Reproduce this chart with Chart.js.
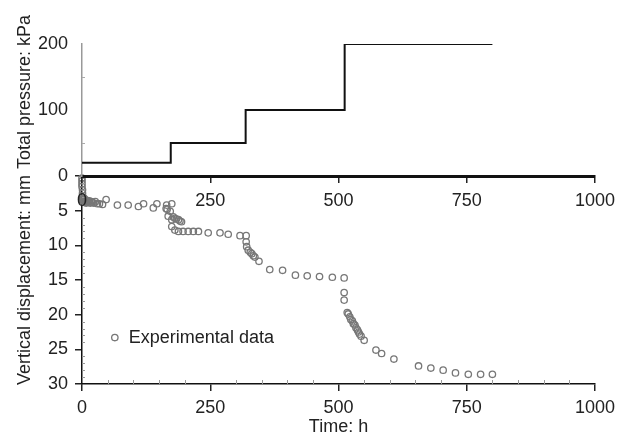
<!DOCTYPE html>
<html>
<head>
<meta charset="utf-8">
<script src="https://cdn.jsdelivr.net/npm/chart.js@4"></script>
<style>
	body { margin: 0; background: #fff; }
	#wrap { position: relative; width: 628px; height: 436px; }
	canvas { position: absolute; left: 0; top: 0; }
</style>
</head>
<body>
<div id="wrap">
	<canvas id="dispChart" width="628" height="436"></canvas>
	<canvas id="pressChart" width="628" height="436"></canvas>
</div>
<script>
// load steps (total pressure, kPa)
const stepTime = [0, 173, 319, 512, 800];
const stepPressure = [20, 50, 100, 200, 200];

// measured settlement (vertical displacement, mm)
const timeH = [
	0, 0, 0, 0, 1, 1, 1, 0, 2, 3, 4, 5, 6, 7, 8, 9, 10, 12, 14, 16, 18, 20, 23, 26, 30, 34,
	40, 47, 69, 90, 110, 120, 139, 146, 164,
	165, 175, 166, 172, 168, 175, 178, 181, 184, 188, 191, 194, 175, 181, 188, 197, 207, 217, 227,
	246, 269, 285, 308, 320,
	320, 321, 324, 328, 331, 334, 337, 345, 366, 391, 416, 439, 463, 488, 511,
	511, 511, 517, 519, 522, 524, 527, 529, 532, 534, 537, 539, 541, 544, 550,
	573, 584, 608, 656, 680, 704, 728, 753, 777, 800
];
const dispMm = [
	0.3, 0.7, 1.1, 1.5, 2.0, 2.5, 3.0, 3.5, 3.3, 3.6, 3.2, 3.8, 3.4, 3.6, 3.9, 3.5, 3.7, 3.8, 3.6, 3.9, 3.7, 3.8, 3.9, 3.7, 4.0, 4.0,
	4.1, 3.4, 4.2, 4.2, 4.4, 4.0, 4.6, 4.0, 4.7,
	4.2, 4.0, 4.8, 5.1, 5.8, 6.3, 5.9, 6.1, 6.2, 6.3, 6.5, 6.6, 7.3, 7.8, 8.0, 8.0, 8.0, 8.0, 8.0,
	8.2, 8.2, 8.4, 8.6, 8.6,
	9.5, 10.2, 10.7, 11.0, 11.2, 11.5, 11.7, 12.3, 13.5, 13.6, 14.3, 14.4, 14.5, 14.6, 14.7,
	16.8, 17.9, 19.7, 19.9, 20.3, 20.7, 20.9, 21.3, 21.5, 21.9, 22.2, 22.5, 22.8, 23.1, 23.7,
	25.1, 25.6, 26.4, 27.4, 27.7, 28.0, 28.4, 28.6, 28.6, 28.6
];

const timeMin = 0, timeMax = 1000, timeStep = 250;
const pressMax = 200, pressStep = 100;
const dispMax = 30, dispStep = 5;
const legendText = 'Experimental data';
const legendAt = [64, 23.3];

const markColor = '#777';
const inkColor = '#222';

Chart.defaults.font.family = '"Liberation Sans", Arial, sans-serif';
Chart.defaults.font.size = 18;
Chart.defaults.color = inkColor;

// small inward ticks between the labelled ones
const minorTicks = {
	id: 'minorTicks',
	afterDraw(chart, args, opts) {
		const ctx = chart.ctx;
		const area = chart.chartArea;
		ctx.save();
		ctx.strokeStyle = opts.color;
		ctx.lineWidth = 1;
		ctx.beginPath();
		(opts.list || []).forEach(function(m) {
			const scale = chart.scales[m.axis];
			for (let v = scale.min + m.step; v < scale.max; v += m.step) {
				if (v % m.major === 0) continue;
				const p = Math.round(scale.getPixelForValue(v)) + 0.5;
				if (scale.isHorizontal()) {
					ctx.moveTo(p, area.bottom);
					ctx.lineTo(p, area.bottom - m.len);
				} else {
					ctx.moveTo(area.left, p);
					ctx.lineTo(area.left + m.len, p);
				}
			}
		});
		ctx.stroke();
		ctx.restore();
	}
};

// legend entry inside the plot, and the pressure axis title
const extraText = {
	id: 'extraText',
	afterDraw(chart, args, opts) {
		const ctx = chart.ctx;
		ctx.save();
		ctx.fillStyle = inkColor;
		ctx.font = '18px "Liberation Sans", Arial, sans-serif';
		if (opts.legend) {
			const x = chart.scales.x.getPixelForValue(opts.legend.at[0]);
			const y = chart.scales.y.getPixelForValue(opts.legend.at[1]);
			ctx.strokeStyle = markColor;
			ctx.lineWidth = 1.3;
			ctx.beginPath();
			ctx.arc(x, y, 3.2, 0, Math.PI * 2);
			ctx.stroke();
			ctx.textBaseline = 'middle';
			ctx.textAlign = 'left';
			ctx.fillText(opts.legend.text, x + 14, y);
		}
		if (opts.yTitle) {
			ctx.translate(opts.yTitle.x, opts.yTitle.y);
			ctx.rotate(-Math.PI / 2);
			ctx.textAlign = 'center';
			ctx.textBaseline = 'middle';
			ctx.fillText(opts.yTitle.text, 0, 0);
		}
		ctx.restore();
	}
};

const plainNumber = (v) => String(v);

new Chart(document.getElementById('dispChart'), {
	type: 'scatter',
	data: {
		datasets: [{
			label: legendText,
			data: timeH.map((t, i) => ({x: t, y: dispMm[i]})),
			pointRadius: 3.2,
			pointBorderWidth: 1.3,
			borderColor: markColor,
			backgroundColor: 'rgba(255,255,255,0)',
			clip: false,
		}],
	},
	options: {
		responsive: false,
		animation: false,
		devicePixelRatio: 1,
		layout: { padding: { top: 176, left: 0, right: 33, bottom: 0 } },
		plugins: {
			legend: { display: false },
			tooltip: { enabled: false },
			minorTicks: {
				color: '#999',
				list: [
					{ axis: 'x', step: 50, major: timeStep, len: 4 },
					{ axis: 'y', step: 1, major: dispStep, len: 3 },
				],
			},
			extraText: { legend: { text: legendText, at: legendAt } },
		},
		scales: {
			x: {
				type: 'linear',
				min: timeMin,
				max: timeMax,
				ticks: { stepSize: timeStep, padding: 6, color: inkColor, callback: plainNumber },
				grid: { drawOnChartArea: false, tickLength: 7, color: inkColor, lineWidth: 1.5 },
				border: { color: '#111', width: 1.5 },
				title: { display: true, text: 'Time: h', color: inkColor, font: { size: 18, lineHeight: 1 }, padding: { top: 0, bottom: 0 } },
				afterFit: (s) => { s.height = 52; },
			},
			y: {
				reverse: true,
				min: 0,
				max: dispMax,
				ticks: { stepSize: dispStep, padding: 7, color: inkColor },
				grid: { drawOnChartArea: false, tickLength: 7, color: inkColor, lineWidth: 1.5 },
				border: { color: '#111', width: 1.5 },
				title: { display: true, text: 'Vertical displacement: mm', color: inkColor, font: { size: 18, lineHeight: 1.2 }, padding: { top: 14, bottom: 0 } },
				afterFit: (s) => { s.width = 82; },
			},
		},
	},
	plugins: [minorTicks, extraText],
});

new Chart(document.getElementById('pressChart'), {
	type: 'scatter',
	data: {
		datasets: [{
			label: 'Total pressure',
			data: stepTime.map((t, i) => ({x: t, y: stepPressure[i]})),
			showLine: true,
			stepped: 'before',
			borderColor: '#111',
			borderWidth: 2,
			pointRadius: 0,
		}],
	},
	options: {
		responsive: false,
		animation: false,
		devicePixelRatio: 1,
		layout: { padding: { top: 44, left: 0, right: 33, bottom: 220 } },
		plugins: {
			legend: { display: false },
			tooltip: { enabled: false },
			minorTicks: {
				color: '#aaa',
				list: [{ axis: 'y', step: 50, major: pressStep, len: 3 }],
			},
			extraText: { yTitle: { text: 'Total pressure: kPa', x: 25, y: 92 } },
		},
		scales: {
			x: {
				type: 'linear',
				min: timeMin,
				max: timeMax,
				ticks: { stepSize: timeStep, padding: 7, color: inkColor, callback: plainNumber },
				grid: { drawOnChartArea: false, tickLength: 7, color: inkColor, lineWidth: 1.5 },
				border: { color: '#111', width: 3 },
				afterFit: (s) => { s.height = 40; },
			},
			y: {
				min: 0,
				max: pressMax,
				ticks: {
					stepSize: pressStep,
					padding: 7,
					color: inkColor,
					callback: (v) => (v === 0 ? '' : String(v)),
				},
				grid: { drawOnChartArea: false, tickLength: 7, color: 'rgba(0,0,0,0)' },
				border: { color: '#999', width: 1.5 },
				afterFit: (s) => { s.width = 82; },
			},
		},
	},
	plugins: [minorTicks, extraText],
});
</script>
</body>
</html>
